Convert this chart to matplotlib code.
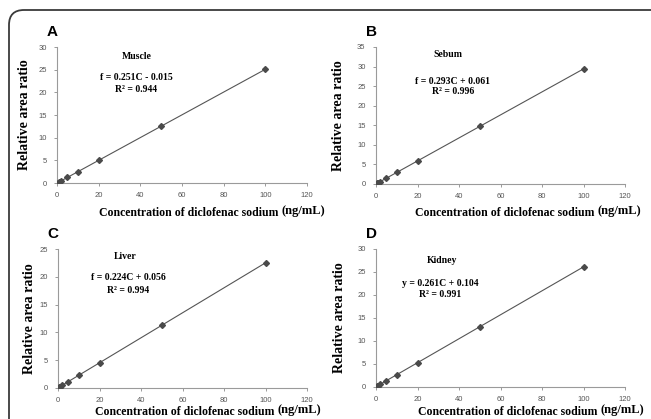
import numpy as np
import matplotlib.pyplot as plt
from matplotlib.patches import FancyBboxPatch
from matplotlib.transforms import IdentityTransform

### Data
conc = [0.5, 1, 2, 5, 10, 20, 50, 100]

muscle = [0.1, 0.25, 0.5, 1.25, 2.5, 5.0, 12.5, 25.1]
sebum = [0.15, 0.3, 0.6, 1.5, 2.95, 5.9, 14.7, 29.4]
liver = [0.12, 0.25, 0.5, 1.15, 2.3, 4.55, 11.3, 22.5]
kidney = [0.15, 0.3, 0.6, 1.4, 2.7, 5.3, 13.1, 26.1]

letters = ["A", "B", "C", "D"]
tissues = ["Muscle", "Sebum", "Liver", "Kidney"]
equations = ["f = 0.251C - 0.015", "f = 0.293C + 0.061",
             "f = 0.224C + 0.056", "y = 0.261C + 0.104"]
r2_text = ["R² = 0.944", "R² = 0.996", "R² = 0.994", "R² = 0.991"]
y_max = [30, 35, 25, 30]
x_ticks = [0, 20, 40, 60, 80, 100, 120]

series = [muscle, sebum, liver, kidney]

# axes boxes (fig fraction) and text spots (data coords)
boxes = [
    [0.0876, 0.5632, 0.384, 0.3246],
    [0.5776, 0.5609, 0.3825, 0.327],
    [0.0891, 0.074, 0.3825, 0.3317],
    [0.5776, 0.0764, 0.3825, 0.3294],
]
ylab_x = [-0.104, -0.124, -0.09, -0.12]
# x label: baseline (axes fraction) and split point between text and unit
xlab_y = [-0.243, -0.234, -0.192, -0.2]
xlab_split = [0.896, 0.89, 0.88, 0.9]
name_pos = [(38.5, 28.0), (34.7, 33.2), (32.3, 23.6), (31.8, 27.4)]
eq_pos = [(38.0, 23.2), (37.0, 26.1), (33.7, 19.8), (30.8, 22.6)]
r2_pos = [(38.0, 20.7), (37.0, 23.5), (33.7, 17.6), (30.8, 20.2)]

serif = "Liberation Serif"
sans = "Liberation Sans"

fig = plt.figure(figsize=(6.51, 4.19), dpi=100)

# rounded frame around the whole figure
frame = FancyBboxPatch((9, -40), 700, 449, boxstyle="round,pad=0,rounding_size=15",
                       transform=IdentityTransform(), fill=False,
                       edgecolor="#3a3a3a", linewidth=1.3)
fig.add_artist(frame)

for i in range(4):
    ax = fig.add_axes(boxes[i])
    x = np.array(conc)
    y = np.array(series[i])

    # linear trend line
    k, b = np.polyfit(x, y, 1)
    xl = np.array([x.min(), x.max()])
    ax.plot(xl, k * xl + b, color="#555555", linewidth=0.8, zorder=2)
    ax.plot(x, y, linestyle="none", marker="D", markersize=3.0,
            color="#4a4a4a", zorder=3)

    ax.set_xlim(0, 120)
    ax.set_ylim(0, y_max[i])
    ax.set_xticks(x_ticks)
    ax.set_yticks(np.arange(0, y_max[i] + 1, 5))
    for s in ["top", "right"]:
        ax.spines[s].set_visible(False)
    for s in ["left", "bottom"]:
        ax.spines[s].set_color("#9a9a9a")
        ax.spines[s].set_linewidth(0.8)
    ax.tick_params(axis="both", labelsize=5.5, colors="#9a9a9a", labelcolor="#555555",
                   length=2.5, width=0.7, pad=5)
    ax.tick_params(axis="x", pad=4)
    for lab in ax.get_xticklabels() + ax.get_yticklabels():
        lab.set_family(sans)

    ax.set_ylabel("Relative area ratio", fontsize=10, fontweight="bold", family=serif)
    ax.yaxis.set_label_coords(ylab_x[i], 0.5)

    ax.text(name_pos[i][0], name_pos[i][1], tissues[i], fontsize=7,
            fontweight="bold", family=serif, ha="center", va="center")
    ax.text(eq_pos[i][0], eq_pos[i][1], equations[i], fontsize=7,
            fontweight="bold", family=serif, ha="center", va="center")
    ax.text(r2_pos[i][0], r2_pos[i][1], r2_text[i], fontsize=7,
            fontweight="bold", family=serif, ha="center", va="center")

    # panel letter
    ax.text(-0.02, 1.11, letters[i], transform=ax.transAxes, fontsize=11,
            fontweight="bold", family=sans, ha="center", va="center")

    # x label in two pieces, unit a bit bigger and raised
    ax.text(xlab_split[i], xlab_y[i], "Concentration of diclofenac sodium ",
            transform=ax.transAxes, fontsize=8.5, fontweight="bold",
            family=serif, ha="right", va="baseline")
    ax.text(xlab_split[i], xlab_y[i] + 0.012, "(ng/mL)", transform=ax.transAxes,
            fontsize=9, fontweight="bold", family=serif,
            ha="left", va="baseline")

fig.savefig("out.png", dpi=100)
